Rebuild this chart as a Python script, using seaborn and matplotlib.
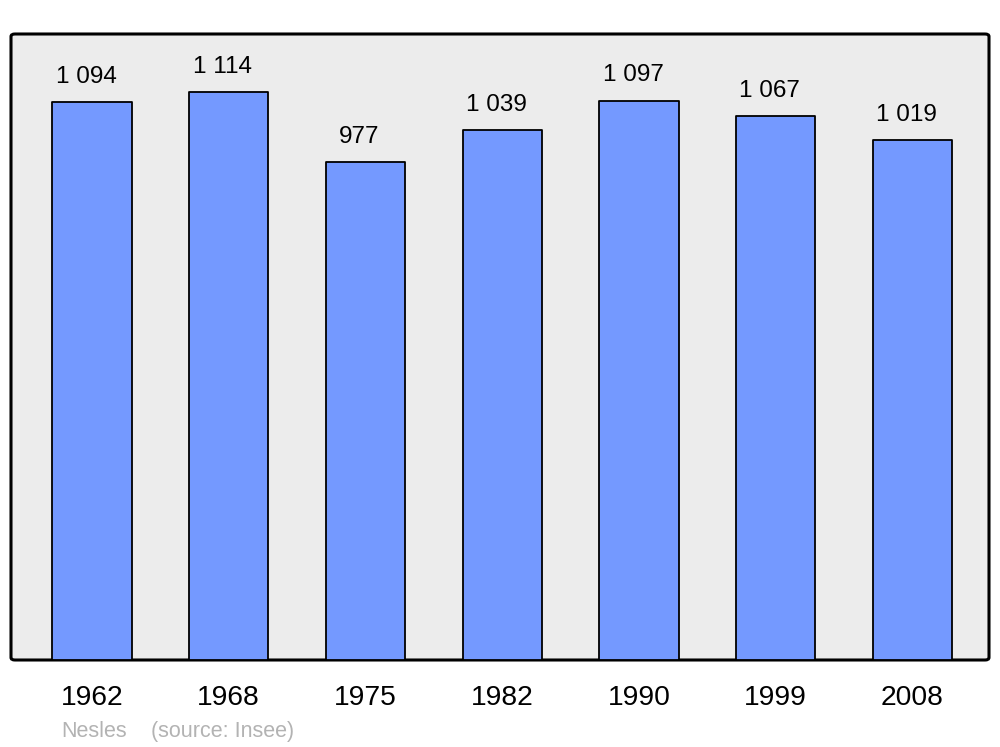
import matplotlib
matplotlib.use('Agg')
import pandas as pd
import seaborn as sns
import matplotlib.pyplot as plt
from matplotlib.patches import FancyBboxPatch

years = ['1962', '1968', '1975', '1982', '1990', '1999', '2008']
population = [1094, 1114, 977, 1039, 1097, 1067, 1019]
value_labels = ['1 094', '1 114', '977', '1 039', '1 097', '1 067', '1 019']
place = 'Nesles'
source = '(source: Insee)'

df = pd.DataFrame({'year': years, 'pop': population})

sns.set_style('white')
plt.rcParams['font.family'] = ['Liberation Sans', 'DejaVu Sans']
plt.rcParams['text.color'] = 'black'
plt.rcParams['xtick.color'] = 'black'

fig = plt.figure(figsize=(10, 7.47), dpi=100)
ax = fig.add_axes([0.011, 87 / 747, 0.978, 626 / 747])

sns.barplot(ax=ax, data=df, x='year', y='pop', color='#7499ff',
            saturation=1, width=0.58, edgecolor='black', linewidth=1.3)
for p in ax.patches:
    p.set_joinstyle('round')

ax.set_ylim(0, 1227.7)
ax.set_xlim(-0.592, 6.56)
ax.set_facecolor('none')
for s in ax.spines.values():
    s.set_visible(False)

# rounded grey panel
bg = FancyBboxPatch((0, 0), 1, 1, boxstyle='round,pad=0,rounding_size=0.004',
                    transform=ax.transAxes, facecolor='#ececec',
                    edgecolor='black', linewidth=2.2, zorder=0, clip_on=False)
ax.add_patch(bg)

for i, (v, lab) in enumerate(zip(population, value_labels)):
    ax.annotate(lab, (i, v), xytext=(-4.3, 13.8), textcoords='offset points',
                ha='center', va='baseline', fontsize=17.5, color='black')

ax.set_xlabel('')
ax.set_ylabel('')
ax.set_yticks([])
ax.tick_params(axis='x', length=0, pad=18, labelsize=20.3, labelcolor='black')

fig.text(0.061, 1 - 737 / 747, place, fontsize=15.5,
         color='#b3b3b3', va='baseline', ha='left')
fig.text(0.151, 1 - 737 / 747, source, fontsize=15.5, color='#b3b3b3',
         va='baseline', ha='left')

fig.savefig('out.png', dpi=100)
